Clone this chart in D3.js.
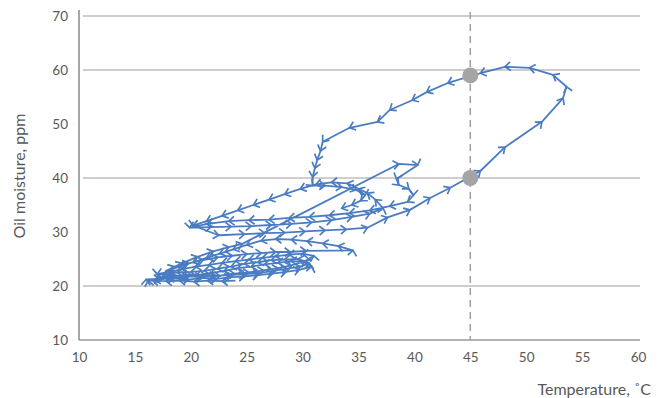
<!DOCTYPE html>
<html>
<head>
<meta charset="utf-8">
<script src="https://cdn.jsdelivr.net/npm/d3@7"></script>
<style>
  html, body { margin: 0; padding: 0; background: #fff; }
  svg { display: block; }
  text { font-family: Lato, "Open Sans", sans-serif; fill: #595959; }
</style>
</head>
<body>
<svg id="chart" width="664" height="398"></svg>
<script>
// Oil temperature (°C) along the recorded trajectory, in time order
const temperature = [
  24.0, 22.8, 21.5, 20.3, 19.0, 17.8, 16.6, 16.0,
  17.2, 18.5, 19.8, 21.0, 22.3, 23.5, 24.8, 26.0, 27.3, 28.5, 29.7, 30.8,
  30.2, 29.0, 27.8, 26.6, 25.4, 24.2, 23.0, 21.8, 20.5, 19.2, 18.0, 16.8, 16.2,
  17.4, 18.7, 20.0, 21.3, 22.6, 23.9, 25.2, 26.5, 27.8, 29.0, 30.2, 31.0,
  30.0, 28.8, 27.6, 26.4, 25.2, 24.0, 22.8, 21.6, 20.4, 19.2, 18.0, 17.0,
  18.3, 19.6, 20.9, 22.2, 23.5, 24.8, 26.1, 27.4, 28.6, 29.8, 30.6,
  29.6, 28.4, 27.2, 26.0, 24.8, 23.6, 22.4, 21.2, 20.0, 18.8, 17.6,
  18.5, 19.8, 21.1, 22.4, 23.7, 25.0, 26.3, 27.6, 28.9, 30.3, 34.5,
  33.2, 31.8, 30.4, 29.0, 27.6, 26.3, 25.0, 23.8, 22.6, 21.4, 20.2, 19.0, 17.8,
  19.2, 20.6, 22.0, 23.4, 24.6,
  38.6, 40.3, 38.4, 38.6, 39.5, 39.9, 39.4,
  37.8, 36.0, 34.2, 32.4, 30.6, 28.8, 27.0, 25.2, 23.4, 21.5, 19.9,
  21.8, 23.6, 25.4, 27.2, 29.0, 30.8, 32.6, 34.4, 36.0, 37.2,
  36.5, 35.8, 35.0, 34.0,
  32.6, 31.2, 29.8, 28.4, 27.0, 25.6, 24.2, 22.8, 21.4, 20.2,
  22.5, 24.8, 26.6, 28.4, 30.2, 32.0, 33.9, 35.8, 37.6, 39.6, 41.4, 43.2,
  45.9, 48.1, 51.4, 53.3, 53.6, 52.4, 50.3, 48.1, 45.9,
  43.0, 41.1, 39.8, 37.8, 36.7, 34.2, 31.8, 31.6, 31.3, 31.1, 30.9, 30.9,
  32.0, 33.5, 34.8, 35.6, 35.2, 34.4, 33.5
];

// Oil moisture (ppm) at the same instants
const moisture = [
  21.0, 20.9, 21.0, 20.8, 21.0, 20.9, 21.0, 21.2,
  21.3, 21.4, 21.2, 21.5, 21.3, 21.6, 21.8, 22.0, 22.3, 22.6, 23.0, 23.6,
  24.5, 24.6, 24.3, 24.0, 23.6, 23.3, 22.8, 22.4, 22.0, 21.6, 21.4, 21.1, 21.0,
  21.6, 21.9, 22.1, 22.0, 21.9, 22.3, 22.5, 22.9, 23.3, 23.8, 24.6, 25.6,
  26.0, 25.8, 25.5, 25.2, 24.9, 24.6, 24.3, 23.9, 23.6, 23.1, 22.6, 22.2,
  22.0, 21.8, 21.7, 21.9, 22.0, 22.2, 22.4, 22.8, 23.2, 23.6, 24.2,
  25.0, 24.9, 24.8, 24.4, 24.1, 23.6, 23.2, 22.8, 22.6, 22.5, 22.4,
  23.6, 24.2, 24.8, 25.3, 25.6, 25.9, 26.1, 26.3, 26.3, 26.5, 26.6,
  27.4, 27.9, 28.3, 28.6, 28.7, 28.4, 27.6, 26.8, 26.0, 25.2, 24.4, 23.6, 22.8,
  24.2, 25.4, 26.4, 27.2, 27.8,
  42.6, 42.4, 39.8, 38.7, 38.0, 36.8, 35.6,
  34.8, 34.0, 33.5, 33.1, 32.8, 32.6, 32.3, 32.2, 32.0, 31.5, 30.8,
  30.9, 31.0, 31.1, 31.3, 31.5, 31.8, 32.2, 32.8, 33.4, 34.4,
  36.0, 37.2, 38.0, 39.0,
  39.2, 38.8, 38.0, 37.0, 36.0, 35.0, 34.0, 33.0, 32.0, 31.2,
  29.4, 29.6, 29.8, 29.9, 30.1, 30.3, 30.5, 30.8, 32.7, 34.1, 36.3, 38.2,
  41.3, 45.7, 50.4, 54.8, 56.9, 59.1, 60.4, 60.6, 59.4,
  57.6, 55.9, 54.4, 52.6, 50.4, 49.3, 46.7, 45.0, 43.3, 41.8, 40.2, 38.6,
  38.6, 38.3, 37.8, 36.8, 35.8, 35.0, 34.4
];

// Highlighted readings where the trajectory crosses 45 °C
const markTemperature = [45, 45];
const markMoisture = [59, 40];

// Axis ticks and gridlines
const xTicks = [10, 15, 20, 25, 30, 35, 40, 45, 50, 55, 60];
const yTicks = [10, 20, 30, 40, 50, 60, 70];
const gridValues = [20, 40, 60, 70];
const guideTemperature = 45;

const svg = d3.select("#chart");
const x = d3.scaleLinear().domain([10, 60]).range([79, 638]);
const y = d3.scaleLinear().domain([10, 70]).range([340, 16]);
const blue = "#4a7cc2";

// horizontal gridlines
svg.append("g").selectAll("line").data(gridValues).join("line")
  .attr("x1", x(10) + 4).attr("x2", x(60) + 2)
  .attr("y1", d => y(d)).attr("y2", d => y(d))
  .attr("stroke", "#d2cdcd").attr("stroke-width", 2);

// axes (lines only, no tick marks)
const xAxis = d3.axisBottom(x).tickValues(xTicks).tickSize(0).tickPadding(12);
const yAxis = d3.axisLeft(y).tickValues(yTicks).tickSize(0).tickPadding(11);

const gx = svg.append("g").attr("transform", `translate(0,${y(10)})`).call(xAxis);
const gy = svg.append("g").attr("transform", `translate(${x(10)},0)`).call(yAxis);
[gx, gy].forEach(g => {
  g.select(".domain").attr("stroke", "#6b6b6b").attr("stroke-width", 1.2);
  g.selectAll("text").attr("font-size", 13.5).attr("fill", "#595959")
    .attr("font-family", "Lato, 'Open Sans', sans-serif");
});
gy.select(".domain").attr("d", `M0,${y(10)}V${y(70) - 6}`);
gx.select(".domain").attr("d", `M${x(10)},0H${x(60) + 2}`);

// dashed guide at 45 °C
svg.append("line")
  .attr("x1", x(guideTemperature)).attr("x2", x(guideTemperature))
  .attr("y1", y(70) - 4).attr("y2", y(10))
  .attr("stroke", "#9e9e9e").attr("stroke-width", 1.5)
  .attr("stroke-dasharray", "7,5");

// arrowhead marker placed on every reading
const defs = svg.append("defs");
defs.append("marker")
  .attr("id", "chev")
  .attr("markerUnits", "userSpaceOnUse")
  .attr("viewBox", "-9 -7 11 14")
  .attr("markerWidth", 11).attr("markerHeight", 14)
  .attr("refX", 0).attr("refY", 0)
  .attr("orient", "auto")
  .append("path")
  .attr("d", "M-5.5,-4.4L0,0L-5.5,4.4")
  .attr("fill", "none").attr("stroke", blue).attr("stroke-width", 1.7)
  .attr("stroke-linejoin", "miter");

const pts = temperature.map((t, i) => [t, moisture[i]]);
const line = d3.line().x(d => x(d[0])).y(d => y(d[1]));

svg.append("path")
  .attr("d", line(pts))
  .attr("fill", "none")
  .attr("stroke", blue).attr("stroke-width", 1.8)
  .attr("stroke-linejoin", "round")
  .attr("marker-mid", "url(#chev)")
  .attr("marker-end", "url(#chev)");

// grey dots
svg.append("g").selectAll("circle").data(markTemperature).join("circle")
  .attr("cx", d => x(d)).attr("cy", (d, i) => y(markMoisture[i]))
  .attr("r", 8).attr("fill", "#a5a5a5");

// axis titles
svg.append("text")
  .attr("x", 651).attr("y", 395)
  .attr("text-anchor", "end")
  .attr("font-size", 16)
  .text("Temperature, ˚C");

svg.append("text")
  .attr("transform", "translate(25,176) rotate(-90)")
  .attr("text-anchor", "middle")
  .attr("font-size", 16)
  .text("Oil moisture, ppm");
</script>
</body>
</html>
